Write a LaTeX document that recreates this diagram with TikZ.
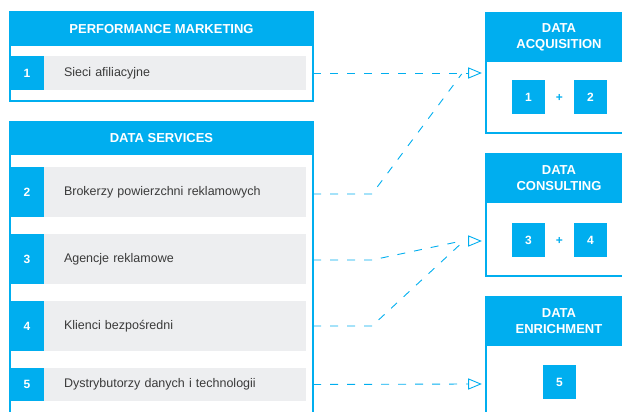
\documentclass[tikz,border=0pt]{standalone}
\usepackage{fontspec}
\setmainfont{Liberation Sans}
\usetikzlibrary{shapes.geometric,calc}
\definecolor{cy}{HTML}{00AEEF}
\definecolor{rowgray}{HTML}{EDEEF0}
\definecolor{txt}{HTML}{3A3A3A}
\tikzset{
  panel/.style={draw=cy, line width=1.2pt, inner sep=0pt, outer sep=0pt, anchor=north west},
  hdr/.style={fill=cy, inner sep=0pt, outer sep=0pt, anchor=north west, text=white, font=\fontsize{13}{16}\selectfont\bfseries, align=center},
  numbox/.style={fill=cy, inner sep=0pt, outer sep=0pt, anchor=north west, text=white, font=\fontsize{12}{12}\selectfont\bfseries, minimum width=34pt},
  rowbox/.style={fill=rowgray, inner xsep=20pt, inner ysep=0pt, outer sep=0pt, anchor=north west, text=txt, font=\fontsize{12.5}{14}\selectfont, text width=222pt, align=left},
  sqbox/.style={fill=cy, inner sep=0pt, outer sep=0pt, minimum width=33pt, minimum height=34pt, text=white, font=\fontsize{12}{12}\selectfont\bfseries},
  plus/.style={text=cy, font=\fontsize{12}{12}\selectfont\bfseries, inner sep=0pt},
  tip/.style={draw=cy, line width=0.9pt, isosceles triangle, isosceles triangle stretches, minimum width=10pt, minimum height=12pt, inner sep=0pt, outer sep=0pt},
  conn/.style={draw=cy, line width=0.9pt, dash pattern=on 8pt off 9pt},
}
\begin{document}
\begin{tikzpicture}[x=1pt,y=-1pt]
\useasboundingbox (0,0) rectangle (622,412);
\clip (0,0) rectangle (622,412);
% left panels
\node[panel, minimum width=303pt, minimum height=89pt] (p1) at (10,12) {};
\node[hdr, minimum width=303pt, minimum height=34pt] (h1) at (10,12) {PERFORMANCE MARKETING};
\node[numbox, minimum height=34pt] (n1) at (10,56) {1};
\node[rowbox, minimum height=34pt] (r1) at (44,56) {Sieci afiliacyjne};

\node[panel, minimum width=303pt, minimum height=320pt] (p2) at (10,122) {};
\node[hdr, minimum width=303pt, minimum height=33pt] (h2) at (10,122) {DATA SERVICES};
\node[numbox, minimum height=50pt] (n2) at (10,167) {2};
\node[rowbox, minimum height=50pt] (r2) at (44,167) {Brokerzy powierzchni reklamowych};
\node[numbox, minimum height=50pt] (n3) at (10,234) {3};
\node[rowbox, minimum height=50pt] (r3) at (44,234) {Agencje reklamowe};
\node[numbox, minimum height=50pt] (n4) at (10,301) {4};
\node[rowbox, minimum height=50pt] (r4) at (44,301) {Klienci bezpośredni};
\node[numbox, minimum height=33pt] (n5) at (10,368) {5};
\node[rowbox, minimum height=33pt] (r5) at (44,368) {Dystrybutorzy danych i technologii};

% right panels
\node[panel, minimum width=146pt, minimum height=120pt] (q1) at (486,13) {};
\node[hdr, minimum width=146pt, minimum height=49pt] (g1) at (486,13) {DATA\\ACQUISITION};
\node[sqbox] (b1) at (528.5,97) {1};
\node[plus] (pl1) at (559.5,98) {+};
\node[sqbox] (b2) at (590.5,97) {2};

\node[panel, minimum width=146pt, minimum height=122pt] (q2) at (486,154) {};
\node[hdr, minimum width=146pt, minimum height=49pt] (g2) at (486,154) {DATA\\CONSULTING};
\node[sqbox] (b3) at (528.5,240) {3};
\node[plus] (pl2) at (559.5,241) {+};
\node[sqbox] (b4) at (590.5,240) {4};

\node[panel, minimum width=146pt, minimum height=140pt] (q3) at (486,297) {};
\node[hdr, minimum width=146pt, minimum height=49pt] (g3) at (486,297) {DATA\\ENRICHMENT};
\node[sqbox] (b5) at (559.5,382) {5};

% arrow tips
\node[tip] (t1) at (472,73) {};
\node[tip] (t2) at (472,241) {};
\node[tip] (t3) at (472,384) {};

% connectors
\coordinate (k2) at (372,194);
\coordinate (k3) at (372,260);
\coordinate (k4) at (372,326);
\draw[conn] (r1.east -| p1.east) -- (t1.west);
\draw[conn] (p2.east |- k2) -- (k2) -- ($(t1.west)+(-7,1)$);
\draw[conn] (p2.east |- k3) -- (k3) -- ($(t2.west)+(-7,0)$);
\draw[conn] (p2.east |- k4) -- (k4) -- ($(t2.west)+(-7,2)$);
\draw[conn] (r5.east -| p2.east) -- (t3.west);
\end{tikzpicture}
\end{document}
